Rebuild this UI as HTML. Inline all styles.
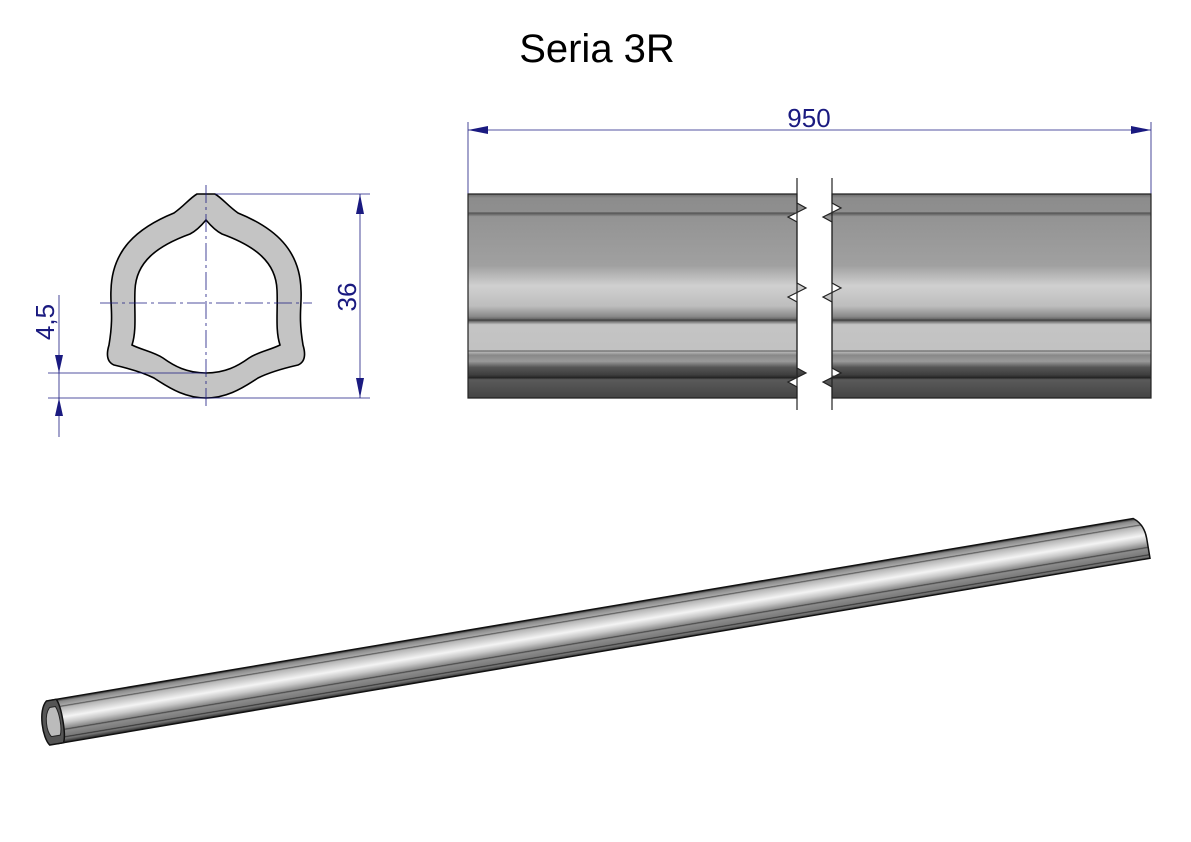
<!DOCTYPE html>
<html><head><meta charset="utf-8"><style>
html,body{margin:0;padding:0;background:#fff;}
svg{display:block;}
text{font-family:"Liberation Sans",sans-serif;}
</style></head><body>
<svg width="1191" height="842" viewBox="0 0 1191 842" xmlns="http://www.w3.org/2000/svg">
<defs>
<linearGradient id="side" x1="0" y1="194" x2="0" y2="398" gradientUnits="userSpaceOnUse">
<stop offset="0" stop-color="#6a6a6a"/>
<stop offset="0.02" stop-color="#8c8c8c"/>
<stop offset="0.09" stop-color="#8f8f8f"/>
<stop offset="0.1" stop-color="#6a6a6a"/>
<stop offset="0.11" stop-color="#939393"/>
<stop offset="0.35" stop-color="#a0a0a0"/>
<stop offset="0.45" stop-color="#d0d0d0"/>
<stop offset="0.55" stop-color="#bdbdbd"/>
<stop offset="0.6" stop-color="#8a8a8a"/>
<stop offset="0.62" stop-color="#555"/>
<stop offset="0.64" stop-color="#c4c4c4"/>
<stop offset="0.77" stop-color="#c2c2c2"/>
<stop offset="0.79" stop-color="#888"/>
<stop offset="0.82" stop-color="#9a9a9a"/>
<stop offset="0.85" stop-color="#555"/>
<stop offset="0.89" stop-color="#3c3c3c"/>
<stop offset="0.9" stop-color="#222"/>
<stop offset="0.91" stop-color="#5a5a5a"/>
<stop offset="1" stop-color="#444"/>
</linearGradient>
<linearGradient id="tube" x1="0" y1="-22" x2="0" y2="22" gradientUnits="userSpaceOnUse">
<stop offset="0" stop-color="#222"/>
<stop offset="0.06" stop-color="#8a8a8a"/>
<stop offset="0.15" stop-color="#a8a8a8"/>
<stop offset="0.17" stop-color="#555"/>
<stop offset="0.2" stop-color="#b5b5b5"/>
<stop offset="0.42" stop-color="#f4f4f4"/>
<stop offset="0.55" stop-color="#c8c8c8"/>
<stop offset="0.68" stop-color="#8a8a8a"/>
<stop offset="0.7" stop-color="#444"/>
<stop offset="0.73" stop-color="#8c8c8c"/>
<stop offset="0.85" stop-color="#7a7a7a"/>
<stop offset="0.87" stop-color="#333"/>
<stop offset="0.9" stop-color="#7a7a7a"/>
<stop offset="1" stop-color="#222"/>
</linearGradient>
</defs>

<text x="597" y="62" font-size="40" text-anchor="middle" fill="#000">Seria 3R</text>

<path d="M197,194 L215,194 C222,198 228,206 238,213 C275,228 300,250 301,290 C302,305 298,315 303,345 C306,355 305,362 298,365 C285,368 270,372 258,378 C240,390 225,398 206,398 C187,398 172,390 154,378 C142,372 127,368 114,365 C107,362 106,355 109,345 C114,315 110,305 111,290 C112,250 137,228 174,213 C184,206 190,198 197,194 Z" fill="#c4c4c4" stroke="#000" stroke-width="1.6"/>
<path d="M206,220 C211,226 216,231 222,234 C255,246 276,262 277,290 C278,310 275,330 280,345 C270,350 258,352 249,358 C238,366 225,373 206,373 C187,373 174,366 163,358 C154,352 142,350 132,345 C137,330 134,310 135,290 C136,262 157,246 190,234 C196,231 201,226 206,220 Z" fill="#fff" stroke="#000" stroke-width="1.6"/>
<g stroke="#1a1a80" stroke-width="0.8" fill="none">
<line x1="100" y1="303" x2="312" y2="303" stroke-dasharray="18,4,3,4"/>
<line x1="206" y1="185" x2="206" y2="410" stroke-dasharray="18,4,3,4"/>
<line x1="215" y1="194" x2="370" y2="194"/>
<line x1="206" y1="398" x2="370" y2="398"/>
<line x1="360" y1="194" x2="360" y2="398"/>
<line x1="48" y1="373" x2="206" y2="373"/>
<line x1="48" y1="398" x2="206" y2="398"/>
<line x1="59" y1="295" x2="59" y2="437"/>
<line x1="468" y1="122" x2="468" y2="194"/>
<line x1="1151" y1="122" x2="1151" y2="194"/>
<line x1="468" y1="130" x2="1151" y2="130"/>
</g>
<g fill="#1a1a80">
<polygon points="360,194 356,214 364,214"/>
<polygon points="360,398 356,378 364,378"/>
<polygon points="59,373 55,355 63,355"/>
<polygon points="59,398 55,416 63,416"/>
<polygon points="468,130 488,126 488,134"/>
<polygon points="1151,130 1131,126 1131,134"/>
</g>
<text transform="translate(356,297) rotate(-90)" font-size="26" text-anchor="middle" fill="#1a1a80">36</text>
<text transform="translate(54,322) rotate(-90)" font-size="26" text-anchor="middle" fill="#1a1a80">4,5</text>
<text x="809" y="127" font-size="26" text-anchor="middle" fill="#1a1a80">950</text>

<path d="M468,194 L797,194 L797,203 L806,208 L788,217 L797,222 L797,283 L806,288 L788,297 L797,302 L797,368 L806,373 L788,382 L797,387 L797,398 L468,398 Z" fill="url(#side)" stroke="#222" stroke-width="1.2"/>
<path d="M1151,194 L832,194 L832,203 L841,208 L823,217 L832,222 L832,283 L841,288 L823,297 L832,302 L832,368 L841,373 L823,382 L832,387 L832,398 L1151,398 Z" fill="url(#side)" stroke="#222" stroke-width="1.2"/>
<line x1="797" y1="178" x2="797" y2="410" stroke="#222" stroke-width="1.2"/>
<line x1="832" y1="178" x2="832" y2="410" stroke="#222" stroke-width="1.2"/>
<g stroke="#333" stroke-width="0.8">
<line x1="468" y1="213" x2="797" y2="213"/><line x1="832" y1="213" x2="1151" y2="213"/>
<line x1="468" y1="320" x2="797" y2="320"/><line x1="832" y1="320" x2="1151" y2="320"/>
<line x1="468" y1="351" x2="797" y2="351"/><line x1="832" y1="351" x2="1151" y2="351"/>
<line x1="468" y1="376" x2="797" y2="376"/><line x1="832" y1="376" x2="1151" y2="376"/>
</g>

<g transform="translate(54,722) rotate(-9.53)">
<path d="M0,-22 L1098,-22 C1106,-16 1108,-8 1108,0 L1108,20 L0,22 Z" fill="url(#tube)" stroke="#111" stroke-width="1.5"/>
<path d="M-4,-22 L6,-22 C10,-14 10,14 6,22 L-8,22 C-14,14 -14,-14 -4,-22 Z" fill="#555" stroke="#111" stroke-width="1.5"/>
<path d="M-2,-15 L4,-15 C7,-8 7,8 4,14 L-5,14 C-9,8 -9,-8 -2,-15 Z" fill="#bbb" stroke="#222" stroke-width="1"/>
</g>
</svg>
</body></html>
